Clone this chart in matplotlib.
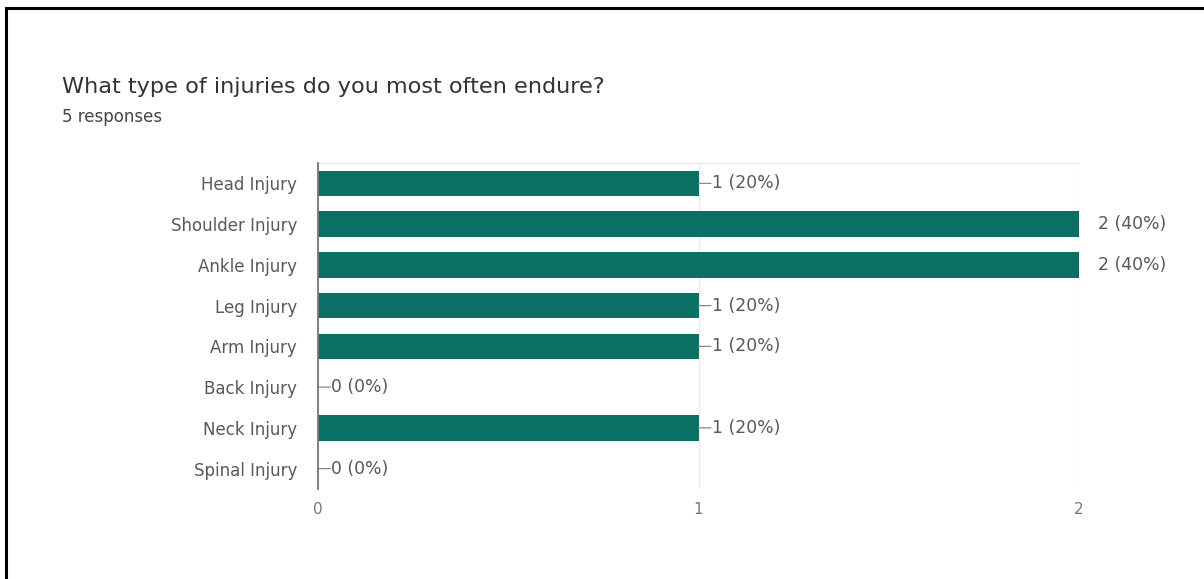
import matplotlib
matplotlib.use("Agg")
import matplotlib.pyplot as plt
from matplotlib.patches import Rectangle

categories = ["Head Injury", "Shoulder Injury", "Ankle Injury", "Leg Injury",
              "Arm Injury", "Back Injury", "Neck Injury", "Spinal Injury"]
counts = [1, 2, 2, 1, 1, 0, 1, 0]
total_responses = 5
x_ticks = [0, 1, 2]

title = "What type of injuries do you most often endure?"
subtitle = f"{total_responses} responses"

bar_color = "#0b7064"
text_color = "#595959"
grid_color = "#ececec"

plt.rcParams["font.family"] = ["DejaVu Sans"]

W, H = 1204, 579
fig = plt.figure(figsize=(W / 100, H / 100), dpi=100)
fig.patch.set_facecolor("white")

# outer frame (top and left edges visible)
fig.add_artist(Rectangle((6 / W, -0.1), 1.2, 1 - 8 / H + 0.1, transform=fig.transFigure,
                         fill=False, edgecolor="black", linewidth=2.2))

fig.text(62 / W, 1 - 87 / H, title, fontsize=16.1, color="#333333", va="center")
fig.text(62 / W, 1 - 117 / H, subtitle, fontsize=12.0, color="#444444", va="center")

left, right = 318 / W, 1079 / W
top, bottom = 1 - 163 / H, 1 - 489 / H
ax = fig.add_axes([left, bottom, right - left, top - bottom])

y = list(range(len(categories)))
ax.barh(y, counts, height=0.62, color=bar_color, zorder=3)
ax.set_ylim(len(categories) - 0.5, -0.5)
ax.set_xlim(0, 2)

tick_size = 12.0
value_size = 12.4
ax.set_yticks(y)
ax.set_yticklabels(categories, fontsize=tick_size, color=text_color)
ax.set_xticks(x_ticks)
ax.set_xticklabels([str(t) for t in x_ticks], fontsize=11, color="#777777")
ax.tick_params(axis="both", length=0)
ax.tick_params(axis="y", pad=15)
ax.tick_params(axis="x", pad=9)

for s in ["right", "bottom"]:
    ax.spines[s].set_visible(False)
ax.spines["top"].set_color(grid_color)
ax.spines["left"].set_color("#777777")
ax.spines["left"].set_linewidth(1.3)
ax.spines["left"].set_zorder(4)
ax.grid(axis="x", color=grid_color, linewidth=1.0, zorder=0)
ax.set_axisbelow(True)

xmax = max(x_ticks)
for yi, c in zip(y, counts):
    label = f"{c} ({c / total_responses:.0%})"
    if c < xmax:
        ax.annotate("", xy=(c, yi), xytext=(9, 0), textcoords="offset points",
                    arrowprops=dict(arrowstyle="-", color="#888888", lw=0.9,
                                    shrinkA=0, shrinkB=0), annotation_clip=False)
        ax.annotate(label, xy=(c, yi), xytext=(9.5, 0), textcoords="offset points",
                    va="center", ha="left", fontsize=value_size, color=text_color,
                    annotation_clip=False)
    else:
        ax.annotate(label, xy=(c, yi), xytext=(14, 0), textcoords="offset points",
                    va="center", ha="left", fontsize=value_size, color=text_color,
                    annotation_clip=False)

fig.savefig("out.png", dpi=100, facecolor="white")
